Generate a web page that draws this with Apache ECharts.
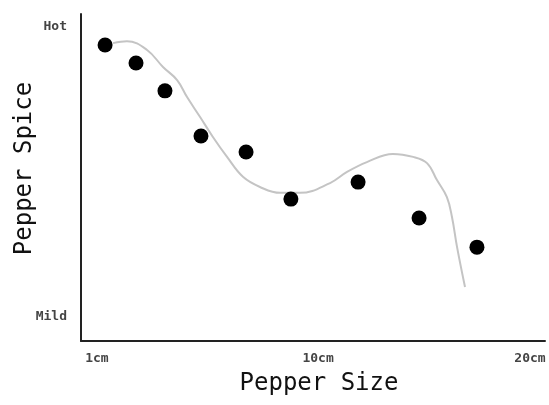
<!DOCTYPE html>
<html><head><meta charset="utf-8">
<script src="https://cdn.jsdelivr.net/npm/echarts@6/dist/echarts.min.js"></script>
<style>html,body{margin:0;padding:0;background:#fff}#c{width:549px;height:405px}</style>
</head><body><div id="c"></div>
<script>
// Scatter points: [size position, spice level]
var dotX = [1.09, 2.49, 3.80, 5.43, 7.47, 9.50, 12.54, 15.30, 17.92];
var dotY = [9.05, 8.50, 7.65, 6.27, 5.78, 4.34, 4.86, 3.76, 2.87];
// Fitted trend curve
var curveX = [1.45, 2.08, 2.99, 3.71, 4.35, 4.80, 5.39, 5.97, 6.61, 7.33, 8.10, 9.01, 9.91, 11.27, 12.04, 12.94, 14.12, 15.03, 15.66, 16.11, 16.56, 16.79, 17.02, 17.38];
var curveY = [9.11, 9.17, 8.90, 8.38, 7.98, 7.46, 6.85, 6.24, 5.63, 5.02, 4.71, 4.53, 4.53, 4.83, 5.17, 5.47, 5.72, 5.63, 5.44, 4.92, 4.40, 3.79, 2.87, 1.65];
// Tick labels
var xTickPos = [0.72, 10.73, 20.32];
var xTickLabels = ['1cm', '10cm', '20cm'];
var yTickPos = [0.74, 9.6];
var yTickLabels = ['Mild', 'Hot'];

var dots = dotX.map(function (x, i) { return [x, dotY[i]]; });
var curve = curveX.map(function (x, i) { return [x, curveY[i]]; });

var chart = echarts.init(document.getElementById('c'), null, {renderer: 'canvas'});
var titleFont = {fontFamily: 'DejaVu Sans Mono', fontSize: 24, color: '#111'};
var tickFont = {fontFamily: 'DejaVu Sans Mono', fontSize: 13, fontWeight: 'bold', color: '#444'};
chart.setOption({
  animation: false,
  grid: {left: 81, right: 4, top: 14, bottom: 64, containLabel: false, outerBoundsMode: 'none'},
  xAxis: {
    type: 'value', min: 0, max: 21,
    name: 'Pepper Size', nameLocation: 'middle', nameGap: 31, nameMoveOverlap: false,
    nameTextStyle: Object.assign({padding: [0, 0, 0, 12]}, titleFont),
    axisLine: {show: true, lineStyle: {color: '#222', width: 2}},
    axisTick: {show: false}, splitLine: {show: false},
    axisLabel: Object.assign({
      customValues: xTickPos, margin: 11,
      formatter: function (v) { var i = xTickPos.indexOf(v); return i >= 0 ? xTickLabels[i] : ''; }
    }, tickFont)
  },
  yAxis: {
    type: 'value', min: 0, max: 10,
    name: 'Pepper Spice', nameLocation: 'middle', nameGap: 44, nameMoveOverlap: false,
    nameTextStyle: Object.assign({padding: [0, 0, 0, 18]}, titleFont),
    axisLine: {show: true, lineStyle: {color: '#222', width: 2}},
    axisTick: {show: false}, splitLine: {show: false},
    axisLabel: Object.assign({
      customValues: yTickPos, margin: 14,
      formatter: function (v) { var i = yTickPos.indexOf(v); return i >= 0 ? yTickLabels[i] : ''; }
    }, tickFont)
  },
  series: [
    {type: 'line', data: curve, smooth: 0.4, showSymbol: false,
     lineStyle: {color: '#c4c4c4', width: 2}, z: 1},
    {type: 'scatter', data: dots, symbolSize: 15,
     itemStyle: {color: '#000', opacity: 1}, z: 2}
  ]
});
</script></body></html>
